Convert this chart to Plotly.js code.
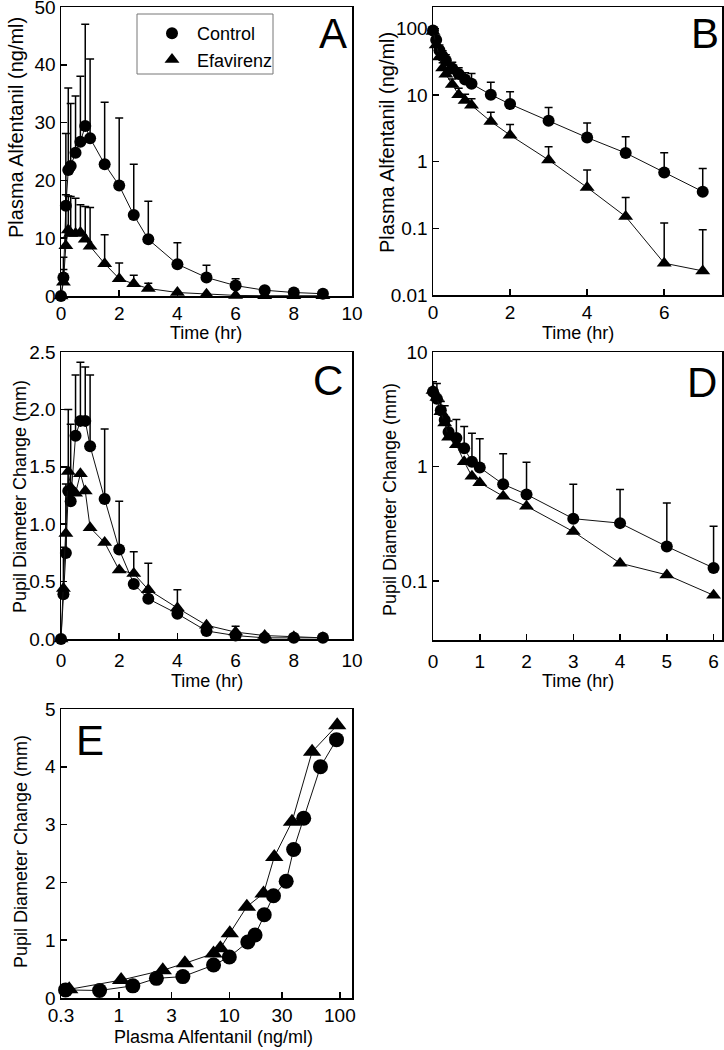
<!DOCTYPE html>
<html>
<head>
<meta charset="utf-8">
<script src="https://cdn.plot.ly/plotly-3.0.1.min.js"></script>
<style>
  html, body { margin: 0; padding: 0; background: #fff; }
  #chart { width: 724px; height: 1050px; }
</style>
</head>
<body>
<div id="chart"></div>
<script>
// oral dosing time points (panels A and C)
var tOral = [0, 0.083, 0.167, 0.25, 0.333, 0.5, 0.667, 0.833, 1, 1.5, 2, 2.5, 3, 4, 5, 6, 7, 8, 9];
// IV dosing time points (panels B and D)
var tIV = [0, 0.083, 0.167, 0.25, 0.333, 0.5, 0.667, 0.833, 1, 1.5, 2, 3, 4, 5, 6, 7];
var tIVPupil = [0, 0.083, 0.167, 0.25, 0.333, 0.5, 0.667, 0.833, 1, 1.5, 2, 3, 4, 5, 6];

// A: plasma alfentanil, oral
var concOralCtl = [0, 3.2, 15.6, 21.8, 22.5, 24.8, 26.7, 29.4, 27.3, 22.8, 19.1, 14.0, 9.8, 5.5, 3.2, 1.8, 1.0, 0.6, 0.4];
var concOralCtlSD = [0, 3.5, 12.5, 14.2, 10.8, 9.8, 11.3, 17.6, 13.7, 10.7, 11.7, 8.8, 6.6, 3.7, 2.1, 1.2, 0.3, 0, 0];
var concOralEfv = [0, 2.4, 8.7, 11.4, 10.8, 10.8, 11.0, 9.8, 8.6, 5.6, 3.0, 2.1, 1.3, 0.6, 0.3, 0.1, 0.05, 0.05, 0.05];
var concOralEfvSD = [0, 2.2, 8.8, 5.9, 6.4, 6.1, 4.8, 5.7, 6.7, 5.0, 2.7, 1.5, 0.9, 0, 0, 0, 0, 0, 0];

// B: plasma alfentanil, IV
var concIVCtl = [93, 67, 47, 38, 33, 25, 20.7, 17.1, 14.7, 10.1, 7.3, 4.1, 2.3, 1.35, 0.69, 0.355];
var concIVCtlSD = [12, 10, 9, 8, 7, 6, 5, 4.5, 6.3, 5.4, 3.9, 2.4, 1.5, 1.02, 0.67, 0.435];
var concIVEfv = [90, 56, 37, 25.5, 20.4, 14.4, 10.1, 8.3, 7.0, 4.0, 2.5, 1.06, 0.41, 0.15, 0.030, 0.023];
var concIVEfvSD = [10, 8, 6, 5, 4, 3, 2.5, 2, 1.8, 1.5, 1.1, 0.62, 0.34, 0.14, 0.09, 0.072];

// C: pupil diameter change, oral
var pupilOralCtl = [0, 0.39, 0.75, 1.29, 1.2, 1.77, 1.9, 1.9, 1.68, 1.22, 0.78, 0.48, 0.35, 0.22, 0.07, 0.03, 0.01, 0.01, 0.01];
var pupilOralCtlSD = [0, 0.41, 0.6, 0.71, 0.67, 0.53, 0.51, 0.47, 0.62, 0.61, 0.42, 0, 0, 0, 0, 0, 0, 0, 0];
var pupilOralEfv = [0, 0.44, 0.92, 1.46, 1.32, 1.27, 1.44, 1.29, 0.97, 0.84, 0.6, 0.57, 0.43, 0.27, 0.12, 0.06, 0.03, 0.02, 0.01];
var pupilOralEfvSD = [0, 0, 0, 0, 0, 0, 0, 0, 0, 0, 0, 0.19, 0.23, 0.16, 0, 0.05, 0, 0, 0];

// D: pupil diameter change, IV
var pupilIVCtl = [4.5, 3.9, 3.1, 2.55, 2.0, 1.77, 1.44, 1.1, 0.98, 0.70, 0.57, 0.35, 0.32, 0.20, 0.13];
var pupilIVCtlSD = [1.0, 1.4, 0.6, 0.85, 0.5, 0.8, 0.8, 0.85, 0.77, 0.59, 0.52, 0.35, 0.31, 0.28, 0.17];
var pupilIVEfv = [4.6, 4.0, 3.0, 2.4, 1.8, 1.55, 1.1, 0.82, 0.72, 0.55, 0.45, 0.27, 0.143, 0.113, 0.075];

// E: pupil change vs plasma concentration
var effConcCtl = [0.33, 0.67, 1.34, 2.19, 3.8, 7.2, 10, 14.7, 17.1, 20.7, 25.1, 32.7, 38.2, 47.1, 66.8, 93.3];
var effPupilCtl = [0.14, 0.13, 0.21, 0.34, 0.37, 0.57, 0.71, 0.97, 1.09, 1.44, 1.77, 2.02, 2.57, 3.11, 4.0, 4.47];
var effConcEfv = [0.356, 1.05, 2.5, 3.96, 7.2, 8.3, 10.1, 14.4, 20.4, 25.5, 36.9, 56.1, 94.7];
var effPupilEfv = [0.15, 0.31, 0.48, 0.6, 0.77, 0.86, 1.12, 1.58, 1.81, 2.44, 3.05, 4.26, 4.72];

var logTicks = [0.01, 0.1, 1, 10, 100];
var logTickText = ['0.01', '0.1', '1', '10', '100'];
var concTicks = [0.3, 1, 3, 10, 30, 100];
var concTickText = ['0.3', '1', '3', '10', '30', '100'];

var FONT = 'Liberation Sans, Arial, sans-serif';
var W = 724, H = 1050;

function axRef(n) { return n > 1 ? String(n) : ''; }

// line first (no legend), markers + error bars on top
function series(x, y, sd, name, symbol, n, size, legend) {
  var lineTrace = {
    x: x, y: y, type: 'scatter', mode: 'lines', name: name,
    xaxis: 'x' + axRef(n), yaxis: 'y' + axRef(n),
    line: {color: '#111', width: 1}, showlegend: false, hoverinfo: 'skip'
  };
  var markTrace = {
    x: x, y: y, type: 'scatter', mode: 'markers', name: name,
    xaxis: 'x' + axRef(n), yaxis: 'y' + axRef(n),
    marker: {symbol: symbol, size: size, color: 'black'},
    cliponaxis: false, showlegend: legend
  };
  if (sd) {
    markTrace.error_y = {type: 'data', symmetric: false, array: sd,
      arrayminus: sd.map(function () { return 0; }),
      color: 'black', thickness: 1.5, width: 4};
  }
  return [lineTrace, markTrace];
}

var data = [].concat(
  series(tOral, concOralCtl, concOralCtlSD, 'Control', 'circle', 1, 12, true),
  series(tOral, concOralEfv, concOralEfvSD, 'Efavirenz', 'triangle-up', 1, 13, true),
  series(tIV, concIVCtl, concIVCtlSD, 'Control', 'circle', 2, 12, false),
  series(tIV, concIVEfv, concIVEfvSD, 'Efavirenz', 'triangle-up', 2, 13, false),
  series(tOral, pupilOralCtl, pupilOralCtlSD, 'Control', 'circle', 3, 12, false),
  series(tOral, pupilOralEfv, pupilOralEfvSD, 'Efavirenz', 'triangle-up', 3, 13, false),
  series(tIVPupil, pupilIVCtl, pupilIVCtlSD, 'Control', 'circle', 4, 12, false),
  series(tIVPupil, pupilIVEfv, null, 'Efavirenz', 'triangle-up', 4, 13, false),
  series(effConcCtl, effPupilCtl, null, 'Control', 'circle', 5, 15, false),
  series(effConcEfv, effPupilEfv, null, 'Efavirenz', 'triangle-up', 5, 16, false)
);

function axis(extra) {
  return Object.assign({
    showline: true, linecolor: 'black', linewidth: 1.5, mirror: true,
    ticks: 'inside', ticklen: 6, tickwidth: 1.5, tickcolor: 'black',
    showgrid: false, zeroline: false, fixedrange: true,
    ticklabeloverflow: 'allow',
    tickfont: {family: FONT, size: 19, color: 'black'}
  }, extra);
}
function dom(a, b) { return [a / W, b / W]; }
function domY(top, bottom) { return [1 - bottom / H, 1 - top / H]; }

var layout = {
  width: W, height: H, autosize: false,
  margin: {l: 0, r: 0, t: 0, b: 0},
  paper_bgcolor: 'white', plot_bgcolor: 'white',
  font: {family: FONT, color: 'black'},
  showlegend: true,
  legend: {
    x: 147 / W, y: 1 - 15 / H, xanchor: 'left', yanchor: 'top',
    borderwidth: 0, bgcolor: 'rgba(0,0,0,0)',
    font: {family: FONT, size: 18, color: 'black'}, itemwidth: 40,
    tracegroupgap: 0
  },
  shapes: [{type: 'rect', xref: 'paper', yref: 'paper',
    x0: 137 / W, x1: 273 / W, y0: 1 - 74 / H, y1: 1 - 14 / H,
    line: {color: '#777', width: 1}, fillcolor: 'rgba(0,0,0,0)'}],
  xaxis: axis({domain: dom(61, 352), anchor: 'y', range: [0, 10], dtick: 2}),
  yaxis: axis({domain: domY(7, 296), anchor: 'x', range: [0, 50], dtick: 10}),
  xaxis2: axis({domain: dom(433, 722), anchor: 'y2', range: [0, 7.5], dtick: 2}),
  yaxis2: axis({domain: domY(7, 295), anchor: 'x2', type: 'log', range: [-2, 2.32], tickvals: logTicks, ticktext: logTickText}),
  xaxis3: axis({domain: dom(61, 352), anchor: 'y3', range: [0, 10], dtick: 2, ticklabelstandoff: 4}),
  yaxis3: axis({domain: domY(352, 639), anchor: 'x3', range: [0, 2.5], dtick: 0.5, tickformat: '.1f'}),
  xaxis4: axis({domain: dom(433, 722), anchor: 'y4', range: [0, 6.18], dtick: 1, ticklabelstandoff: 4}),
  yaxis4: axis({domain: domY(352, 640), anchor: 'x4', type: 'log', range: [Math.log10(0.0305), 1], tickvals: logTicks, ticktext: logTickText}),
  xaxis5: axis({domain: dom(61, 352), anchor: 'y5', type: 'log', range: [Math.log10(0.3), 2.11], tickvals: concTicks, ticktext: concTickText}),
  yaxis5: axis({domain: domY(709, 998), anchor: 'x5', range: [0, 5], dtick: 1})
};

// axis titles placed as annotations: [text, x px, y px, angle, size]
var axisTitles = [
  ['Time (hr)', 206, 333, 0, 18],
  ['Time (hr)', 578, 333, 0, 18],
  ['Time (hr)', 207, 681, 0, 18],
  ['Time (hr)', 578, 681, 0, 18],
  ['Plasma Alfentanil (ng/ml)', 213, 1037, 0, 18],
  ['Plasma Alfentanil (ng/ml)', 16, 128, -90, 20],
  ['Plasma Alfentanil (ng/ml)', 387, 143, -90, 20],
  ['Pupil Diameter Change (mm)', 20, 497, -90, 18],
  ['Pupil Diameter Change (mm)', 390, 500, -90, 18],
  ['Pupil Diameter Change (mm)', 21, 852, -90, 18]
];
var panelLetters = [['A', 333, 33], ['B', 705, 33], ['C', 328, 380], ['D', 702, 382], ['E', 90, 740]];

layout.annotations = axisTitles.map(function (a) {
  return {text: a[0], xref: 'paper', yref: 'paper', x: a[1] / W, y: 1 - a[2] / H,
    xanchor: 'center', yanchor: 'middle', textangle: a[3], showarrow: false,
    font: {family: FONT, size: a[4], color: 'black'}};
}).concat(panelLetters.map(function (p) {
  return {text: p[0], xref: 'paper', yref: 'paper', x: p[1] / W, y: 1 - p[2] / H,
    xanchor: 'center', yanchor: 'middle', showarrow: false,
    font: {family: FONT, size: 42, color: 'black'}};
}));

Plotly.newPlot('chart', data, layout, {staticPlot: true});
</script>
</body>
</html>
